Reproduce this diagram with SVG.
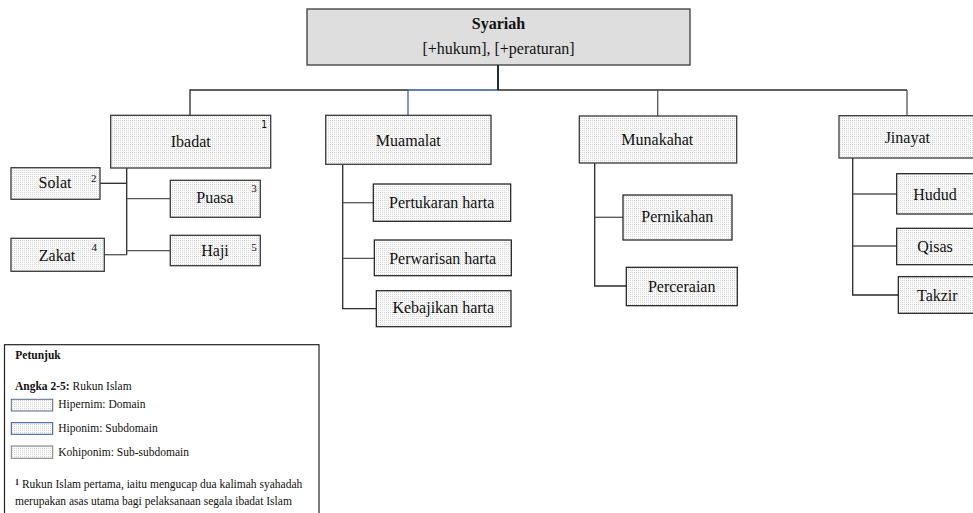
<svg xmlns="http://www.w3.org/2000/svg" width="973" height="513" viewBox="0 0 973 513">
<style>
.t{font-size:16px;fill:#111;text-anchor:middle}
.b{font-weight:bold}
.sup{font-size:11px;fill:#111;text-anchor:middle}
.sup1{font-size:10px;fill:#111;text-anchor:middle}
.lg{font-size:11.5px;fill:#111}
.box{fill:url(#dots);stroke:#3a3a3a;stroke-width:1.3}
.leaf{fill:url(#dots);stroke:#1a1a1a;stroke-width:1.2}
.c{fill:none;stroke:#555;stroke-width:1.3}
.cd{fill:none;stroke:#2a2a2a;stroke-width:1.3}
</style>
<defs>
<pattern id="dots" x="0" y="0" width="2" height="2" patternUnits="userSpaceOnUse">
<rect width="2" height="2" fill="#fbfbfb"/>
<rect width="1" height="1" fill="#d6d6d6"/>
</pattern>
</defs>
<rect width="973" height="513" fill="#fff"/>

<g id="connectors">
<path class="cd" d="M190 115 V90 H408"/>
<path d="M408 90 H498" stroke="#2f5597" stroke-width="1.3" fill="none"/>
<path d="M408 90 V115" stroke="#2f5597" stroke-width="1.2" fill="none"/>
<path d="M498 65 V90" stroke="#1f2a44" stroke-width="2" fill="none"/>
<path class="cd" d="M498 90 H907"/>
<path class="c" d="M657.7 90 V116"/>
<path class="c" d="M907 90 V116"/>
<path class="cd" d="M126.7 168 V254.7"/>
<path class="cd" d="M100 183.3 H126.7"/>
<path class="c" d="M126.7 198.7 H170.3"/>
<path class="c" d="M104.3 254.7 H126.7"/>
<path class="c" d="M126.7 250.7 H170.3"/>
<path class="cd" d="M342.7 164.3 V308.7 H376.3"/>
<path class="c" d="M342.7 202.7 H373.3"/>
<path class="c" d="M342.7 258.3 H374.3"/>
<path class="cd" d="M594.7 163 V286 H626.3"/>
<path class="c" d="M594.7 217.3 H623"/>
<path class="cd" d="M852.7 158 V295 H898.3"/>
<path class="c" d="M852.7 194 H896.7"/>
<path class="c" d="M852.7 246 H896.7"/>
</g>

<g font-family="'Liberation Serif', 'Times New Roman', Tinos, 'DejaVu Serif', serif">
<g id="syariah">
<rect x="307" y="9" width="383" height="56" fill="#dedede" stroke="#3a3a3a" stroke-width="1.3"/>
<text class="t b" x="498.5" y="29">Syariah</text>
<text class="t" x="498.5" y="54">[+hukum], [+peraturan]</text>
</g>

<g id="ibadat">
<rect class="box" x="110.7" y="115.3" width="160" height="52.7"/>
<text class="t" x="190.7" y="147">Ibadat</text>
<text class="sup1" x="264" y="128" font-family="'DejaVu Sans Mono', 'Liberation Mono', monospace">1</text>
</g>
<g id="solat">
<rect class="box" x="11" y="167.7" width="89" height="31.6"/>
<text class="t" x="55" y="188">Solat</text>
<text class="sup" x="93.7" y="182">2</text>
</g>
<g id="puasa">
<rect class="box" x="170.3" y="180.3" width="90" height="37"/>
<text class="t" x="215" y="203">Puasa</text>
<text class="sup" x="254" y="192">3</text>
</g>
<g id="zakat">
<rect class="box" x="11" y="238.3" width="93.3" height="33"/>
<text class="t" x="57" y="260.7">Zakat</text>
<text class="sup" x="94.3" y="250.5">4</text>
</g>
<g id="haji">
<rect class="box" x="170.3" y="235.3" width="90" height="30.4"/>
<text class="t" x="215" y="255.7">Haji</text>
<text class="sup" x="254" y="250.5">5</text>
</g>

<g id="muamalat">
<rect class="box" x="325.7" y="115.3" width="165.3" height="49"/>
<text class="t" x="408.3" y="145.7">Muamalat</text>
</g>
<g id="pertukaran">
<rect class="leaf" x="373.3" y="184" width="137.4" height="37.3"/>
<text class="t" x="441.7" y="208.3">Pertukaran harta</text>
</g>
<g id="perwarisan">
<rect class="leaf" x="374.3" y="240" width="137" height="35.7"/>
<text class="t" x="442.7" y="264">Perwarisan harta</text>
</g>
<g id="kebajikan">
<rect class="leaf" x="376.3" y="290.7" width="134.7" height="36"/>
<text class="t" x="443.3" y="313.3">Kebajikan harta</text>
</g>

<g id="munakahat">
<rect class="box" x="579.3" y="116" width="157.4" height="47"/>
<text class="t" x="657.3" y="145">Munakahat</text>
</g>
<g id="pernikahan">
<rect class="leaf" x="623" y="195" width="109" height="45"/>
<text class="t" x="677.3" y="222.3">Pernikahan</text>
</g>
<g id="perceraian">
<rect class="leaf" x="626.3" y="267.3" width="111" height="38.4"/>
<text class="t" x="681.7" y="291.7">Perceraian</text>
</g>

<g id="jinayat">
<rect class="box" x="839" y="115.7" width="137" height="42.3"/>
<text class="t" x="907.3" y="143.3">Jinayat</text>
</g>
<g id="hudud">
<rect class="leaf" x="896.7" y="173.7" width="79" height="40.3"/>
<text class="t" x="935" y="200">Hudud</text>
</g>
<g id="qisas">
<rect class="leaf" x="896.7" y="228.3" width="79" height="36.4"/>
<text class="t" x="935" y="252.3">Qisas</text>
</g>
<g id="takzir">
<rect class="leaf" x="898.3" y="276.7" width="79" height="36.6"/>
<text class="t" x="937.3" y="301">Takzir</text>
</g>

<g id="legend">
<rect x="4.5" y="344.7" width="314.5" height="175" fill="#fff" stroke="#222" stroke-width="1.2"/>
<text class="lg b" x="15.3" y="359.3">Petunjuk</text>
<text class="lg" x="15" y="390"><tspan font-weight="bold">Angka 2-5:</tspan> Rukun Islam</text>
<rect x="11.3" y="399.3" width="41.4" height="11.7" fill="url(#dots)" stroke="#5a6a85" stroke-width="1"/>
<text class="lg" x="58.3" y="408.3">Hipernim: Domain</text>
<rect x="11.3" y="422.7" width="41.4" height="11.6" fill="url(#dots)" stroke="#2f5597" stroke-width="1"/>
<text class="lg" x="58.3" y="431.7">Hiponim: Subdomain</text>
<rect x="11.3" y="446" width="41.4" height="12.3" fill="url(#dots)" stroke="#7f7f7f" stroke-width="1"/>
<text class="lg" x="58.3" y="455.7">Kohiponim: Sub-subdomain</text>
<text class="lg" x="15" y="488.3"><tspan font-size="8px" dy="-3" font-weight="bold">1</tspan><tspan dy="3"> Rukun Islam pertama, iaitu mengucap dua kalimah syahadah</tspan></text>
<text class="lg" x="15" y="505">merupakan asas utama bagi pelaksanaan segala ibadat Islam</text>
</g>
</g>
</svg>
